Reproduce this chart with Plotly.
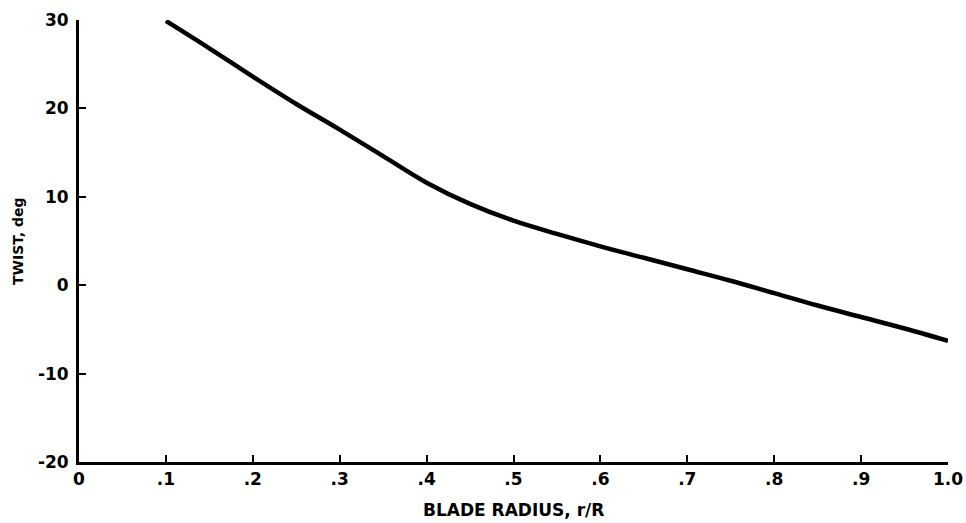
import plotly.graph_objects as go

radius = [0.10, 0.15, 0.20, 0.25, 0.30, 0.35, 0.40, 0.45, 0.50, 0.55,
          0.60, 0.65, 0.70, 0.75, 0.80, 0.85, 0.90, 0.95, 1.00]
twist = [29.9, 26.8, 23.6, 20.5, 17.6, 14.6, 11.6, 9.2, 7.3, 5.8,
         4.4, 3.1, 1.8, 0.5, -0.9, -2.3, -3.6, -4.9, -6.3]

x_tickvals = [0, 0.1, 0.2, 0.3, 0.4, 0.5, 0.6, 0.7, 0.8, 0.9, 1.0]
x_ticktext = ["0", ".1", ".2", ".3", ".4", ".5", ".6", ".7", ".8", ".9", "1.0"]
y_tickvals = [-20, -10, 0, 10, 20, 30]
y_ticktext = ["-20", "-10", "0", "10", "20", "30"]

x_title = "BLADE RADIUS, r/R"
y_title = "TWIST, deg"

font_family = "DejaVu Sans, Arial, sans-serif"
tick_font = dict(size=17, family=font_family, weight="bold", color="black")

fig = go.Figure()
fig.add_trace(go.Scatter(
    x=radius, y=twist, mode="lines",
    line=dict(color="black", width=4.5, shape="spline"),
    showlegend=False, hoverinfo="skip",
))

fig.update_layout(
    width=966, height=523,
    margin=dict(l=79, r=18, t=20, b=61),
    paper_bgcolor="white", plot_bgcolor="white",
    font=dict(family=font_family, color="black"),
    xaxis=dict(
        range=[0, 1.0], tickvals=x_tickvals, ticktext=x_ticktext,
        showgrid=False, zeroline=False, automargin=False,
        showline=True, linecolor="black", linewidth=3,
        ticks="inside", ticklen=7, tickwidth=2, tickcolor="black",
        tickfont=tick_font,
    ),
    yaxis=dict(
        range=[-20, 30], tickvals=y_tickvals, ticktext=y_ticktext,
        showgrid=False, zeroline=False, automargin=False,
        showline=True, linecolor="black", linewidth=3,
        ticks="inside", ticklen=7, tickwidth=2, tickcolor="black",
        tickfont=tick_font, ticklabelstandoff=4,
    ),
    annotations=[
        dict(text=x_title, xref="paper", yref="paper", x=0.5, y=-0.1086,
             xanchor="center", yanchor="middle", showarrow=False,
             font=dict(size=17, family=font_family, weight="bold", color="black")),
        dict(text=y_title, xref="paper", yref="paper", x=-0.0702, y=0.5,
             xanchor="center", yanchor="middle", showarrow=False, textangle=-90,
             font=dict(size=14, family=font_family, weight="bold", color="black")),
    ],
)

fig.write_html(
    "out.html",
    config={"displayModeBar": False},
    post_script="document.body.style.margin='0';document.body.style.overflow='hidden';",
)
